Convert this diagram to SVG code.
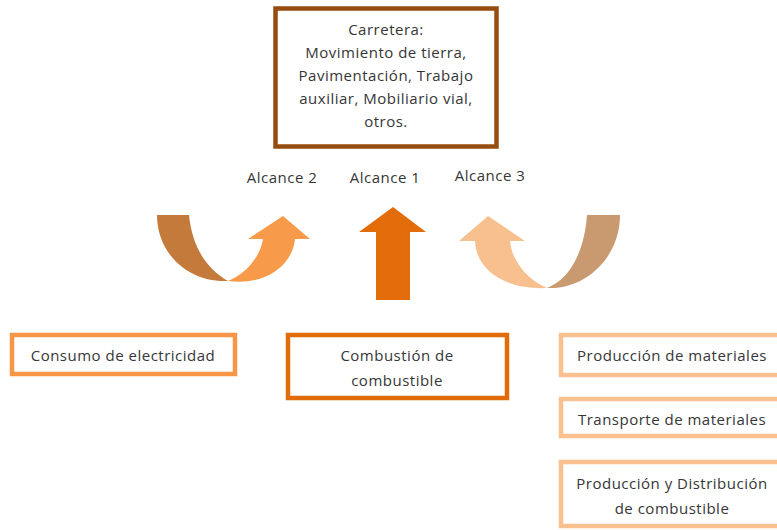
<svg xmlns="http://www.w3.org/2000/svg" width="777" height="530" viewBox="0 0 777 530">
<style>
text{font-family:"Open Sans","Noto Sans","Liberation Sans",sans-serif;font-size:15px;letter-spacing:0.5px;fill:#363636;text-anchor:middle}
.box{fill:#fff;stroke-width:4.5}
</style>
<rect width="777" height="530" fill="#fff"/>
<g id="carretera">
<rect class="box" x="275.5" y="8.5" width="221" height="138" stroke="#954C0E" stroke-width="5"/>
<text x="386" y="35">Carretera:</text>
<text x="386" y="58">Movimiento de tierra,</text>
<text x="386" y="81">Pavimentación, Trabajo</text>
<text x="386" y="104">auxiliar, Mobiliario vial,</text>
<text x="386" y="127">otros.</text>
</g>
<g id="labels">
<text x="282" y="183">Alcance 2</text>
<text x="385" y="183">Alcance 1</text>
<text x="490" y="181">Alcance 3</text>
</g>
<g id="connectors">
<g id="arrow-alcance2">
<path d="M157,215 L189,215 C192,245 205,268 228,281 C190,283 157,255 157,215 Z" fill="#C47A3A"/>
<path d="M228,281 C262,286 292,268 295,239 L310,239 L283,216 L248,239 L263,239 C260,257 246,274 228,281 Z" fill="#F79A4A"/>
</g>
<g id="arrow-alcance1">
<path d="M376,300 L376,232 L359,232 L393,207 L426,232 L410,232 L410,300 Z" fill="#E36C0A"/>
</g>
<g id="arrow-alcance3">
<path d="M587,215 L620,215 C620,258 585,290 547,288 C568,280 584,255 587,215 Z" fill="#C99A70"/>
<path d="M547,288 C505,290 476,270 475,241 L459,241 L488,216 L525,241 L510,241 C512,262 528,280 547,288 Z" fill="#F9C08F"/>
</g>
</g>
<g id="consumo">
<rect class="box" x="12" y="335" width="223" height="39" stroke="#F79646"/>
<text x="123" y="361">Consumo de electricidad</text>
</g>
<g id="combustion">
<rect class="box" x="288" y="335" width="219" height="63" stroke="#E36C0A"/>
<text x="397" y="361">Combustión de</text>
<text x="397" y="386">combustible</text>
</g>
<g id="produccion-materiales">
<rect class="box" x="561" y="335" width="230" height="40" stroke="#FAC090"/>
<text x="672" y="361">Producción de materiales</text>
</g>
<g id="transporte-materiales">
<rect class="box" x="561" y="399" width="230" height="37" stroke="#FAC090"/>
<text x="672" y="425">Transporte de materiales</text>
</g>
<g id="produccion-distribucion">
<rect class="box" x="561" y="462" width="230" height="64" stroke="#FAC090"/>
<text x="672" y="489">Producción y Distribución</text>
<text x="672" y="514">de combustible</text>
</g>
</svg>
